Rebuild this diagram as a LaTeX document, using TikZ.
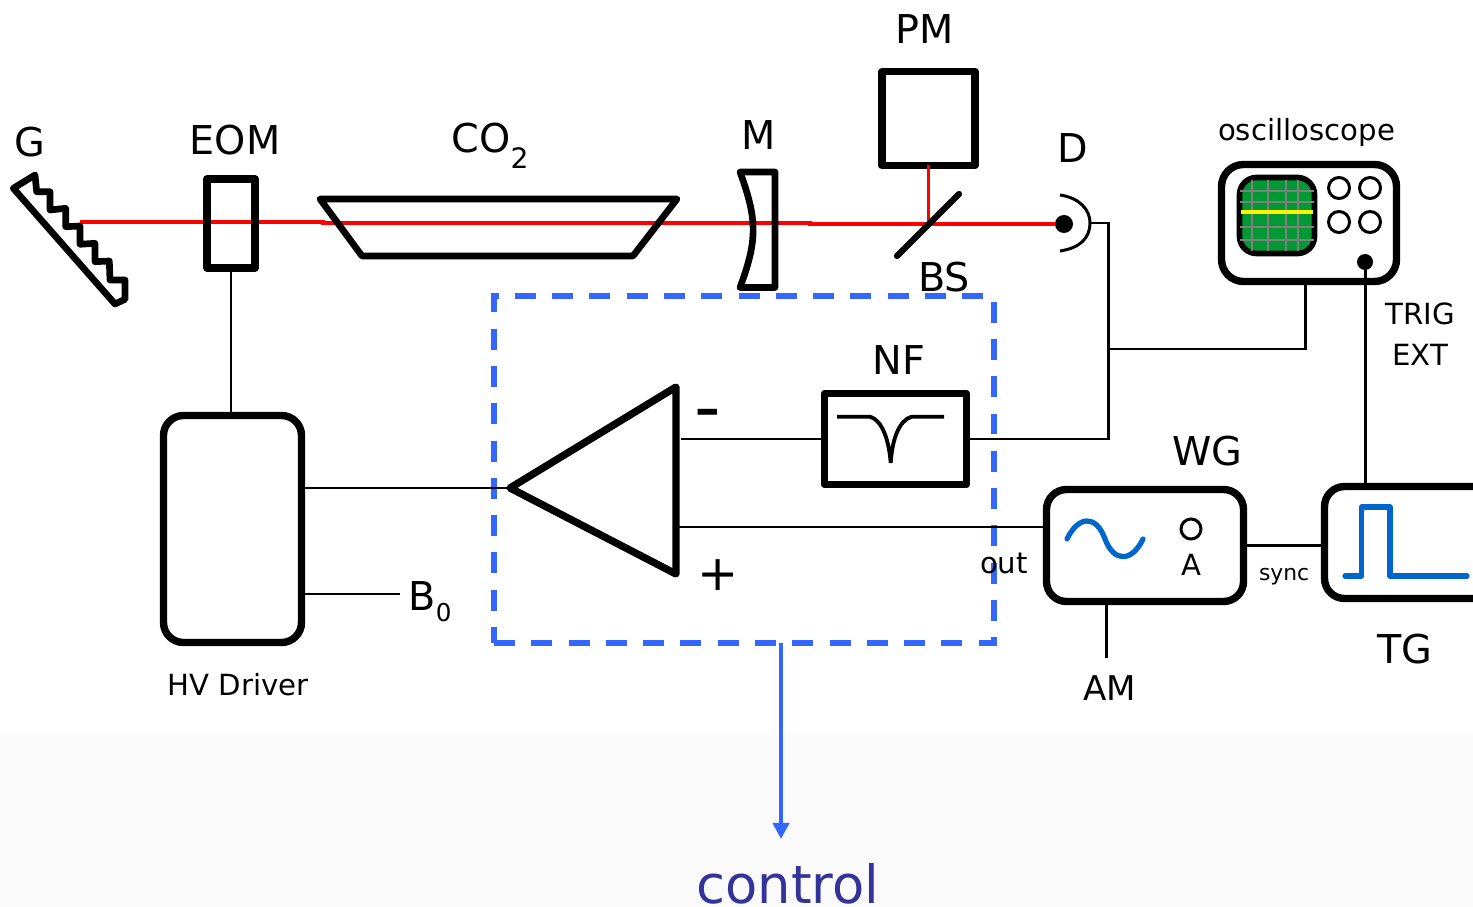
\documentclass[tikz,border=0pt]{standalone}
\usepackage{fontspec}
\setmainfont{DejaVu Sans}
\usetikzlibrary{shapes,arrows.meta,positioning,calc}
\definecolor{ctrlblue}{HTML}{3366FF}
\definecolor{ctrltext}{HTML}{333399}
\definecolor{wave}{HTML}{0066CC}
\definecolor{screen}{HTML}{009933}
\definecolor{floor}{HTML}{FAFAFA}
\tikzset{
  heavy/.style={draw=black, line width=2.1pt, line join=round},
  instr/.style={heavy, inner sep=0pt, outer sep=0pt},
  wire/.style={black, line width=0.85pt},
  beam/.style={red, line width=1pt},
  tag/.style={inner sep=0pt, font=\fontsize{11.3}{13}\selectfont},
  smalltag/.style={inner sep=0pt, font=\fontsize{8.3}{10}\selectfont},
  knob/.style={circle, draw=black, line width=0.85pt, inner sep=0pt, minimum size=0.21cm, outer sep=0pt},
  dot/.style={circle, fill=black, inner sep=0pt, outer sep=0pt},
  trace/.style={wave, line width=1.5pt, line cap=round, line join=round}
}
\begin{document}
\begin{tikzpicture}[x=1cm,y=-1cm]
\useasboundingbox (0,0) rectangle (14.73,9.07);
\fill[floor] (0,7.35) rectangle (14.73,9.07);
% beam path
\coordinate (gspot) at (0.80,2.22);
\coordinate (bsmid) at (9.285,2.24);
\node[dot, minimum size=0.18cm] (det) at (10.64,2.24) {};
\draw[beam] (gspot) -- (3.23,2.22) -- (3.23,2.23) -- (8.10,2.23) -- (8.10,2.24) -- (det);
% grating
\draw[heavy, line width=1.9pt] (0.133,1.883) -- (0.35,1.75) -- (0.367,1.917) -- (0.50,1.917) -- (0.50,2.10) -- (0.657,2.083)
  -- (0.657,2.267) -- (0.80,2.26) -- (0.80,2.443) -- (0.95,2.433) -- (0.95,2.617) -- (1.093,2.61) -- (1.10,2.80) -- (1.25,2.80)
  -- (1.25,2.993) -- (1.15,3.04) -- cycle;
% optics
\node[instr, minimum width=0.48cm, minimum height=0.89cm] (eom) at (2.31,2.235) {};
\draw[heavy, line width=1.9pt] (3.20,1.99) -- (6.77,1.99) -- (6.33,2.56) -- (3.62,2.56) -- cycle;
\draw[heavy, line width=1.9pt] (7.40,1.72) -- (7.75,1.72) -- (7.75,2.875) -- (7.40,2.875)
  .. controls (7.575,2.40) and (7.575,2.20) .. cycle;
\node[instr, minimum width=0.93cm, minimum height=0.94cm] (pm) at (9.285,1.185) {};
\draw[beam] (pm.south) -- (bsmid);
\draw[black, line width=1.8pt, line cap=round] (8.97,2.56) -- (9.59,1.94);
% detector
\coordinate (detout) at (10.90,2.23);
\draw[wire] (10.60,1.95) .. controls (10.80,1.98) and (10.90,2.10) .. (detout)
  .. controls (10.90,2.38) and (10.80,2.48) .. (10.60,2.51);
% control box
\draw[ctrlblue, line width=1.45pt, dash pattern=on 5.97pt off 4.64pt] (4.94,6.43) -- (9.94,6.43) -- (9.94,2.96) -- (4.94,2.96) -- cycle;
\coordinate (ctrlout) at (7.81,6.43);
\coordinate (ctrlend) at (7.81,8.39);
\draw[-{Triangle[width=4.6pt,length=4.6pt]}, ctrlblue, line width=1.25pt] (ctrlout) -- (ctrlend);
% amplifier
\coordinate (ampout) at (5.10,4.88);
\coordinate (ampminus) at (6.81,4.39);
\coordinate (ampplus) at (6.77,5.27);
\draw[heavy] (ampout) -- (6.76,3.87) -- (6.76,5.74) -- cycle;
% blocks
\node[instr, minimum width=1.42cm, minimum height=0.91cm] (nf) at (8.955,4.39) {};
\draw[black, line width=1.1pt] (8.37,4.167) -- (8.70,4.167) .. controls (8.82,4.20) and (8.89,4.40) .. (8.907,4.63)
  .. controls (8.92,4.40) and (8.99,4.20) .. (9.117,4.167) -- (9.44,4.167);
\node[instr, rounded corners=0.2cm, minimum width=1.38cm, minimum height=2.27cm] (hv) at (2.325,5.29) {};
\coordinate (bzero) at (4.00,5.94);
\node[instr, rounded corners=0.2cm, minimum width=1.97cm, minimum height=1.12cm] (wg) at (11.45,5.455) {};
\draw[trace] (10.67,5.39) .. controls (10.78,5.16) and (10.96,5.14) .. (11.05,5.39)
  .. controls (11.14,5.63) and (11.32,5.62) .. (11.43,5.39);
\node[knob, minimum size=0.20cm] (amp) at (11.91,5.29) {};
\coordinate (amin) at (11.06,6.58);
\node[instr, rounded corners=0.2cm, minimum width=1.90cm, minimum height=1.12cm, anchor=north west] (tg) at (13.245,4.865) {};
\draw[trace] (13.45,5.76) -- (13.617,5.76) -- (13.617,5.07) -- (13.90,5.07) -- (13.90,5.76) -- (14.67,5.76);
% oscilloscope
\node[instr, rounded corners=0.22cm, minimum width=1.75cm, minimum height=1.17cm] (scope) at (13.09,2.23) {};
\node[instr, line width=1.6pt, fill=screen, rounded corners=0.17cm, minimum width=0.75cm, minimum height=0.76cm] (crt) at (12.77,2.155) {};
\foreach \gx in {12.52,12.68,12.86,12.98}
  \draw[gray, line width=0.3pt] (\gx,1.80) -- (\gx,2.51);
\foreach \gy in {1.91,2.02,2.27,2.40}
  \draw[gray, line width=0.3pt] (12.40,\gy) -- (13.14,\gy);
\draw[yellow, line width=1pt] (12.41,2.12) -- (13.13,2.12);
\foreach \kx in {13.39,13.70}
  \foreach \ky in {1.88,2.22}
    \node[knob] at (\kx,\ky) {};
\node[dot, minimum size=0.16cm] (trig) at (13.65,2.62) {};
% connections
\draw[wire] (eom.south) -- (eom.south |- hv.north);
\draw[wire] (ampout) -- (hv.east |- ampout);
\draw[wire] (hv.east |- bzero) -- (bzero);
\draw[wire] (ampminus) -- (nf.west);
\draw[wire] (ampplus) -- (wg.west |- ampplus);
\draw[wire] (detout) -- (11.08,2.23) -- (11.08,4.39) -- (nf.east);
\draw[wire] (11.08,3.49) -- (13.05,3.49) -- (13.05,2.815);
\draw[wire] (wg.south -| amin) -- (amin);
\draw[wire] (wg.east) -- (tg.west |- wg.east);
\draw[wire] (trig) -- (trig |- tg.north);
% labels
\node[tag] (glabel) at (0.30,1.42) {G};
\node[tag] (eomlabel) at (2.35,1.40) {EOM};
\node[tag, anchor=base west] (co2label) at (4.51,1.53) {CO\raisebox{-4.5pt}{\fontsize{8}{9}\selectfont 2}};
\node[tag] (mlabel) at (7.59,1.35) {M};
\node[tag] (pmlabel) at (9.25,0.29) {PM};
\node[tag] (dlabel) at (10.73,1.48) {D};
\node[tag] (bslabel) at (9.44,2.77) {BS};
\node[tag] (nflabel) at (8.99,3.60) {NF};
\node[tag] (wglabel) at (12.07,4.51) {WG};
\node[tag] (tglabel) at (14.05,6.49) {TG};
\node[tag, font=\fontsize{9.7}{12}\selectfont] (amlabel) at (11.10,6.88) {AM};
\node[tag, anchor=base west] (blabel) at (4.08,6.10) {B\raisebox{-3.4pt}{\fontsize{7}{8}\selectfont 0}};
\node[smalltag] (hvlabel) at (2.38,6.85) {HV Driver};
\node[smalltag] (scopelabel) at (13.065,1.32) {oscilloscope};
\node[smalltag, align=center, font=\fontsize{8.3}{11.6}\selectfont] (triglabel) at (14.20,3.345) {TRIG\\EXT};
\node[smalltag] (outlabel) at (10.04,5.63) {out};
\node[smalltag] (alabel) at (11.91,5.65) {A};
\node[inner sep=0pt, font=\fontsize{6.2}{8}\selectfont] (synclabel) at (12.84,5.77) {sync};
\node[inner sep=0pt, font=\fontsize{21}{23}\selectfont] (minuslabel) at (7.08,4.21) {-};
\node[inner sep=0pt, font=\fontsize{14}{16}\selectfont] (pluslabel) at (7.18,5.75) {+};
\node[inner sep=0pt, text=ctrltext, font=\fontsize{15}{17}\selectfont, anchor=base] (ctrllabel) at (7.88,9.03) {control};
\end{tikzpicture}
\end{document}
